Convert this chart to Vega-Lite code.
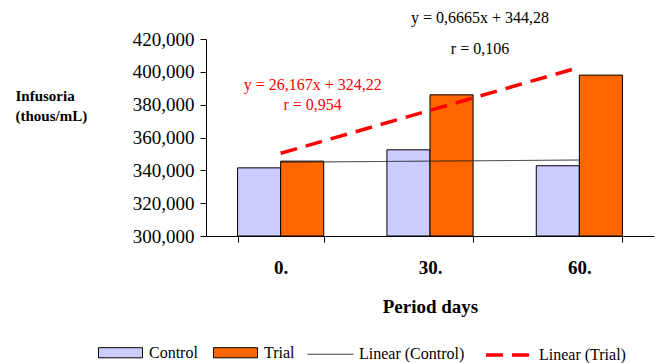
{
  "$schema": "https://vega.github.io/schema/vega-lite/v6.json",
  "width": 448,
  "height": 197,
  "autosize": {"type": "none"},
  "padding": {"left": 206, "top": 39, "right": 6, "bottom": 127},
  "background": "white",
  "config": {
    "view": {"stroke": null},
    "font": "Liberation Serif",
    "axis": {"domainColor": "black", "tickColor": "black", "labelColor": "black", "titleColor": "black", "grid": false, "labelFont": "Liberation Serif", "titleFont": "Liberation Serif"},
    "legend": {"labelFont": "Liberation Serif", "labelFontSize": 16, "labelColor": "black"}
  },
  "encoding": {
    "x": {
      "field": "Period", "type": "nominal",
      "scale": {"domain": ["0.", "30.", "60."], "paddingInner": 0.423, "paddingOuter": 0.2115},
      "axis": {"title": "Period days", "labelAngle": 0, "labelFontSize": 19, "labelFontWeight": "bold", "labelPadding": 16, "tickSize": 6, "tickBand": "extent", "titleFontSize": 19, "titleFontWeight": "bold", "titlePadding": 20}
    },
    "y": {
      "field": "Value", "type": "quantitative",
      "scale": {"domain": [300000, 420000], "zero": false, "nice": false},
      "axis": {"title": ["Infusoria", "(thous/mL)"], "format": ",.0f", "values": [300000, 320000, 340000, 360000, 380000, 400000, 420000], "tickSize": 6, "labelFontSize": 19, "labelPadding": 6, "titleAngle": 0, "titleAlign": "left", "titleBaseline": "top", "titleX": -191, "titleY": 49, "titleFontSize": 15, "titleFontWeight": "bold", "titleLineHeight": 20}
    }
  },
  "layer": [
    {
      "data": {"values": [
        {"Period": "0.", "Group": "Control", "Value": 341500},
        {"Period": "0.", "Group": "Trial", "Value": 345600},
        {"Period": "30.", "Group": "Control", "Value": 352500},
        {"Period": "30.", "Group": "Trial", "Value": 386000},
        {"Period": "60.", "Group": "Control", "Value": 342800},
        {"Period": "60.", "Group": "Trial", "Value": 398000}
      ]},
      "mark": {"type": "bar", "stroke": "black", "strokeWidth": 1},
      "encoding": {
        "xOffset": {"field": "Group", "type": "nominal", "scale": {"domain": ["Control", "Trial"], "paddingInner": 0, "paddingOuter": 0}},
        "y2": {"datum": 300000},
        "fill": {
          "field": "Group", "type": "nominal",
          "scale": {"domain": ["Control", "Trial"], "range": ["#ccccff", "#ff6600"]},
          "legend": {"title": null, "orient": "none", "direction": "horizontal", "legendX": -108, "legendY": 291, "symbolType": "M-1,-0.23H1V0.23H-1Z", "symbolSize": 1936, "symbolStrokeColor": "black", "symbolStrokeWidth": 1, "labelOffset": 6, "columnPadding": 13}
        }
      }
    },
    {
      "data": {"values": [
        {"Period": "0.", "Trend": "Linear (Control)", "Value": 344950},
        {"Period": "30.", "Trend": "Linear (Control)", "Value": 345610},
        {"Period": "60.", "Trend": "Linear (Control)", "Value": 346280},
        {"Period": "0.", "Trend": "Linear (Trial)", "Value": 350390},
        {"Period": "30.", "Trend": "Linear (Trial)", "Value": 376550},
        {"Period": "60.", "Trend": "Linear (Trial)", "Value": 402720}
      ]},
      "mark": {"type": "line"},
      "encoding": {
        "stroke": {
          "field": "Trend", "type": "nominal",
          "scale": {"domain": ["Linear (Control)", "Linear (Trial)"], "range": ["#222222", "#ff0000"]},
          "legend": {"title": null, "orient": "none", "direction": "horizontal", "legendX": 101, "legendY": 291, "symbolType": "stroke", "symbolSize": 2116, "labelOffset": 5, "columnPadding": 14}
        },
        "strokeDash": {
          "field": "Trend", "type": "nominal",
          "scale": {"domain": ["Linear (Control)", "Linear (Trial)"], "range": [[1, 0], [17, 9]]},
          "legend": {"title": null, "orient": "none", "direction": "horizontal", "legendX": 101, "legendY": 291, "symbolType": "stroke", "symbolSize": 2116, "labelOffset": 5, "columnPadding": 14}
        },
        "strokeWidth": {
          "field": "Trend", "type": "nominal",
          "scale": {"domain": ["Linear (Control)", "Linear (Trial)"], "range": [1, 3.5]},
          "legend": {"title": null, "orient": "none", "direction": "horizontal", "legendX": 101, "legendY": 291, "symbolType": "stroke", "symbolSize": 2116, "labelOffset": 5, "columnPadding": 14}
        }
      }
    },
    {
      "data": {"values": [
        {"Period": "30.", "Value": 432800, "Text": "y = 0,6665x + 344,28"},
        {"Period": "30.", "Value": 414000, "Text": "r = 0,106"}
      ]},
      "mark": {"type": "text", "color": "black", "fontSize": 16, "font": "Liberation Serif", "align": "center", "baseline": "middle", "dx": 50},
      "encoding": {
        "text": {"field": "Text"}
      }
    },
    {
      "data": {"values": [
        {"Period": "0.", "Value": 392000, "Text": "y = 26,167x + 324,22"},
        {"Period": "0.", "Value": 379800, "Text": "r = 0,954"}
      ]},
      "mark": {"type": "text", "color": "#ff0000", "fontSize": 16, "font": "Liberation Serif", "align": "center", "baseline": "middle", "dx": 32},
      "encoding": {
        "text": {"field": "Text"}
      }
    }
  ]
}
